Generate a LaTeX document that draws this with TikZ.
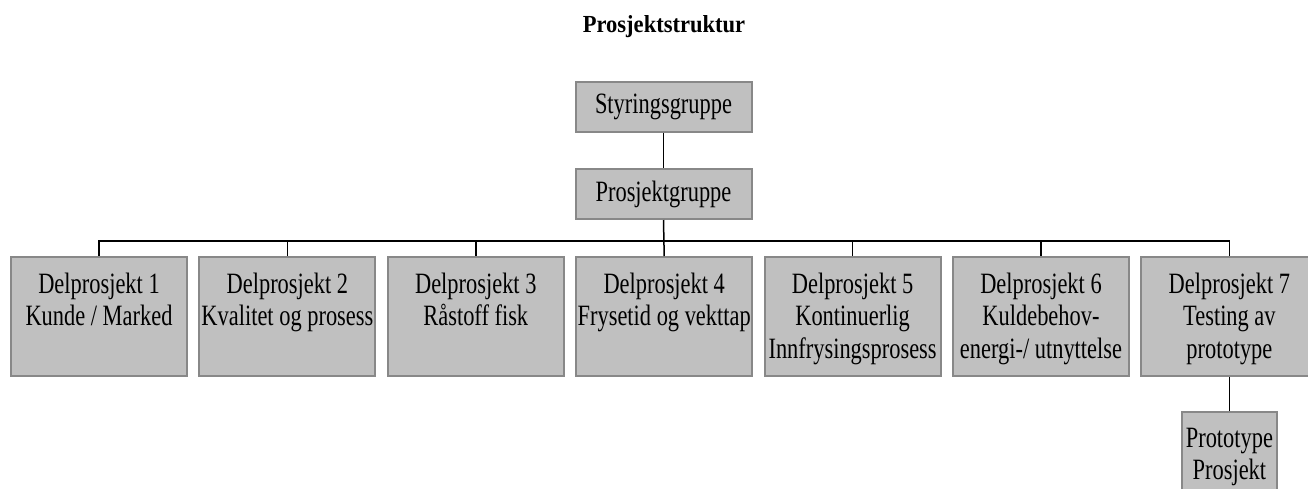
\documentclass[tikz,border=0pt]{standalone}
\usepackage{fontspec}
\setmainfont{Liberation Serif}[FakeStretch=0.76]
\newfontfamily\titlefont{Liberation Serif}[FakeStretch=0.92]
\definecolor{boxfill}{HTML}{C0C0C0}
\definecolor{boxline}{HTML}{888888}
% text placed at the top of a sub-project box
\newcommand{\subtext}[1]{\parbox[c][119pt][t]{176pt}{\centering\rule{0pt}{36pt}#1}}
\begin{document}
\begin{tikzpicture}[x=1pt,y=-1pt,
	box/.style={draw=boxline,line width=2pt,fill=boxfill,inner sep=0pt,
		font=\fontsize{29.5}{32.5}\selectfont},
	topbox/.style={box,minimum width=176pt,minimum height=50pt},
	subbox/.style={box,minimum width=176pt,minimum height=119pt},
	link/.style={draw=black,line width=1.5pt}]
	\useasboundingbox (0,0) rectangle (1308,488);

	\node (title) at (664,27) {\titlefont\bfseries\fontsize{24.5}{27}\selectfont Prosjektstruktur};

	\node[topbox] (styr) at (663.5,106.5) {Styringsgruppe};
	\node[topbox] (pgr) at (663.5,194) {Prosjektgruppe};

	\node[subbox] (d1) at (99,316.5) {\subtext{Delprosjekt 1\\Kunde / Marked}};
	\node[subbox] (d2) at (287.4,316.5) {\subtext{Delprosjekt 2\\Kvalitet og prosess}};
	\node[subbox] (d3) at (475.8,316.5) {\subtext{Delprosjekt 3\\R\aa stoff fisk}};
	\node[subbox] (d4) at (664.2,316.5) {\subtext{Delprosjekt 4\\Frysetid og vekttap}};
	\node[subbox] (d5) at (852.6,316.5) {\subtext{Delprosjekt 5\\Kontinuerlig\\Innfrysingsprosess}};
	\node[subbox] (d6) at (1041,316.5) {\subtext{Delprosjekt 6\\Kuldebehov-\\energi-/ utnyttelse}};
	\node[subbox] (d7) at (1229.4,316.5) {\subtext{Delprosjekt 7\\Testing av\\prototype}};

	\node[box,minimum width=95pt,minimum height=80pt] (proto) at (1229.4,452)
		{\parbox[c][80pt][t]{95pt}{\centering\rule{0pt}{35pt}Prototype\\Prosjekt}};

	\draw[link] (styr) -- (pgr);
	\draw[link] (pgr.south) -- ++(0,21) -| (d1.north);
	\draw[link] (pgr.south) -- ++(0,21) -| (d2.north);
	\draw[link] (pgr.south) -- ++(0,21) -| (d3.north);
	\draw[link] (pgr.south) -- (d4.north);
	\draw[link] (pgr.south) -- ++(0,21) -| (d5.north);
	\draw[link] (pgr.south) -- ++(0,21) -| (d6.north);
	\draw[link] (pgr.south) -- ++(0,21) -| (d7.north);
	\draw[link] (d7) -- (proto);
\end{tikzpicture}
\end{document}
